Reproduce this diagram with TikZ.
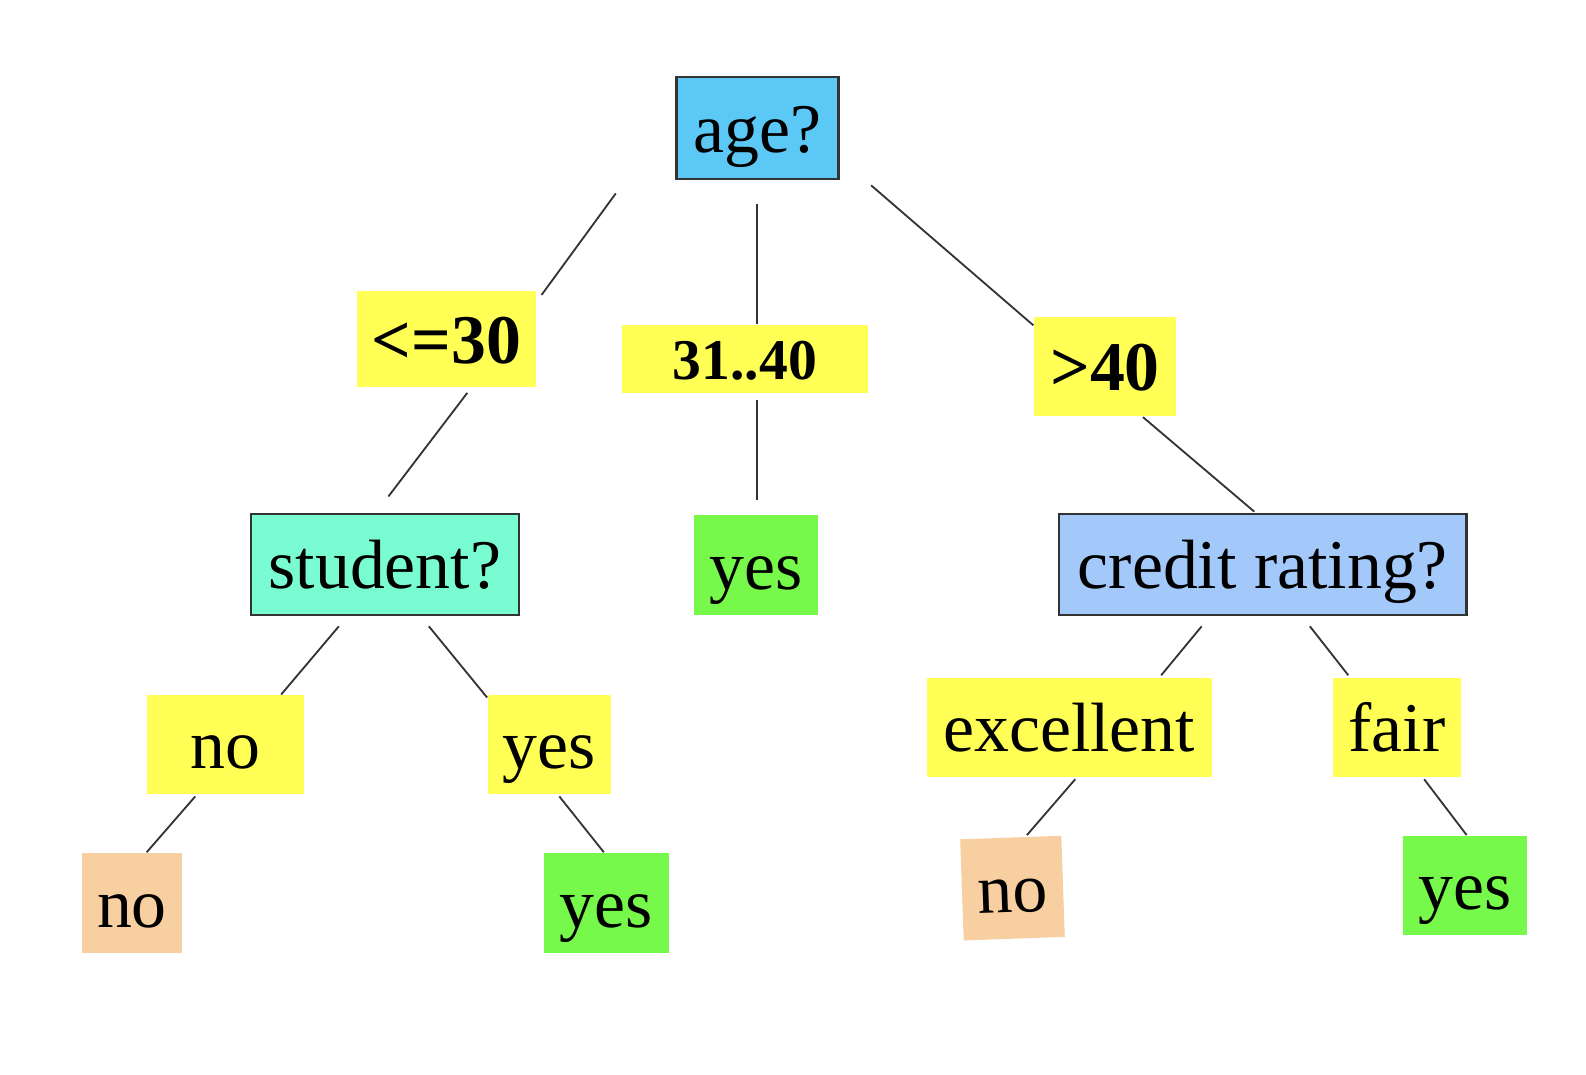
\documentclass[tikz,border=0pt]{standalone}
\usepackage{fontspec}
\setmainfont{Liberation Serif}
\usepackage{xcolor}
\usepackage{tikz}
\usetikzlibrary{calc}
\definecolor{AgeBlue}{HTML}{5BC8F5}
\definecolor{Aqua}{HTML}{7AFCD2}
\definecolor{CreditBlue}{HTML}{A3C8FA}
\definecolor{Branch}{HTML}{FFFF55}
\definecolor{LeafYes}{HTML}{77F94B}
\definecolor{LeafNo}{HTML}{F7CFA0}
\definecolor{Ink}{HTML}{333333}

\begin{document}
\begin{tikzpicture}[x=0.5pt, y=-0.5pt, every node/.style={font=\fontsize{34.5}{40}\selectfont, inner sep=0pt, text height=27.6pt, text depth=3.5pt}, test/.style={draw=Ink,line width=1.2pt}, branch/.style={fill=Branch,font=\fontsize{34.5}{40}\selectfont\bfseries}, edge/.style={draw=Ink,line width=0.9pt}]
\fill[white] (0,0) rectangle (1568,1062);
\useasboundingbox (0,0) rectangle (1568,1062);
% root and first split
\node[test,fill=AgeBlue,minimum width=80pt,minimum height=50.5pt] (age) at (749,126.5) {age?};
\node[branch,minimum width=88.5pt,minimum height=47.5pt] (le30) at (441.5,335.5) {<=30};
\node[branch,font=\fontsize{28.5}{33}\selectfont\bfseries,text height=22.8pt,text depth=2.9pt,minimum width=121.5pt,minimum height=34pt] (mid) at (736.5,355) {31..40};
\node[branch,minimum width=70.5pt,minimum height=49pt] (gt40) at (1092.5,362) {>40};
% second level
\node[test,fill=Aqua,minimum width=132.5pt,minimum height=50pt] (student) at (380.5,558) {student?};
\node[fill=LeafYes,minimum width=61.5pt,minimum height=49.5pt] (yesmid) at (747.5,558.5) {yes};
\node[test,fill=CreditBlue,minimum width=201.5pt,minimum height=50pt] (credit) at (1248.5,558) {credit rating?};
\node[fill=Branch,minimum width=78pt,minimum height=49pt] (sno) at (223,736) {no};
\node[fill=Branch,minimum width=61pt,minimum height=49pt] (syes) at (543,736) {yes};
\node[fill=Branch,minimum width=141pt,minimum height=49pt] (exc) at (1057,719) {excellent};
\node[fill=Branch,minimum width=63pt,minimum height=49pt] (fair) at (1381,719) {fair};
% leaves
\node[fill=LeafNo,minimum width=49.5pt,minimum height=49.5pt] (noleafa) at (130.5,892.5) {no};
\node[fill=LeafYes,minimum width=61.5pt,minimum height=49.5pt] (yesleafa) at (599.5,892.5) {yes};
\node[fill=LeafNo,rotate=2,minimum width=50pt,minimum height=50pt] (noleafb) at (1001,878) {no};
\node[fill=LeafYes,minimum width=61.5pt,minimum height=49pt] (yesleafb) at (1448.5,875) {yes};
% connectors
\draw[edge] ($(age.south west)+(-59,13)$) -- ($(le30.north east)+(5,4)$);
\draw[edge] ($(age.south)+(-1,23)$) -- ($(mid.north)+(11.5,0)$);
\draw[edge] ($(age.south east)+(31,5)$) -- ($(gt40.north west)+(0,9)$);
\draw[edge] ($(le30.south)+(20.5,5)$) -- ($(student.north)+(3.5,-16)$);
\draw[edge] ($(mid.south)+(11.5,6)$) -- ($(yesmid.north)+(0.5,-14)$);
\draw[edge] ($(gt40.south)+(37.5,1)$) -- ($(credit.north)+(-8.5,-1)$);
\draw[edge] ($(student.south)+(-45.5,10)$) -- ($(sno.north)+(55,0)$);
\draw[edge] ($(student.south)+(43.5,10)$) -- ($(syes.north west)+(0,3)$);
\draw[edge] ($(sno.south)+(-30,2)$) -- ($(noleafa.north)+(14.5,0)$);
\draw[edge] ($(syes.south)+(10,2)$) -- ($(yesleafa.north)+(-2.5,0)$);
\draw[edge] ($(credit.south)+(-60.5,10)$) -- ($(exc.north)+(91,-2)$);
\draw[edge] ($(credit.south)+(46.5,10)$) -- ($(fair.north)+(-48,-2)$);
\draw[edge] ($(exc.south)+(6,2)$) -- ($(noleafb.north)+(16,-2)$);
\draw[edge] ($(fair.south)+(27,2)$) -- ($(yesleafb.north)+(1.5,0)$);
\end{tikzpicture}
\end{document}
